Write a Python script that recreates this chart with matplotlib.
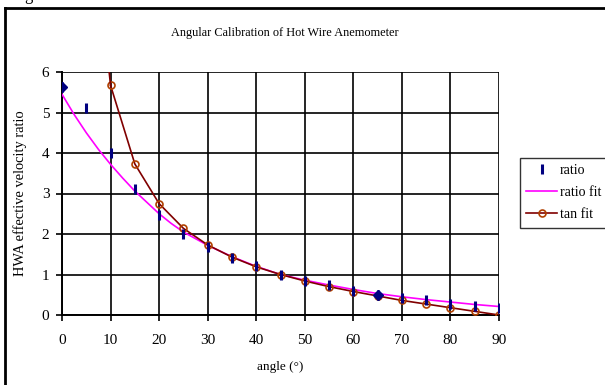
import matplotlib
matplotlib.use("Agg")
import matplotlib.pyplot as plt
from matplotlib.lines import Line2D

plt.rcParams['font.family'] = ['Liberation Serif', 'DejaVu Serif']

# data
angle = [0, 5, 10, 15, 20, 25, 30, 35, 40, 45, 50, 55, 60, 65, 70, 75, 80, 85, 90]
ratio = [5.64, 5.10, 4.00, 3.10, 2.47, 2.00, 1.68, 1.40, 1.20, 1.00,
         0.85, 0.74, 0.60, 0.50, 0.42, 0.36, 0.27, 0.21, 0.17]
fit_angle = [0, 2.5, 5, 7.5, 10, 12.5, 15, 17.5, 20, 22.5, 25, 30, 35, 40, 45,
             50, 55, 60, 65, 70, 75, 80, 85, 90]
ratio_fit = [5.45, 4.95, 4.50, 4.09, 3.72, 3.38, 3.06, 2.78, 2.50, 2.26, 2.05,
             1.72, 1.44, 1.20, 1.00, 0.86, 0.74, 0.63, 0.53, 0.45, 0.38, 0.32,
             0.26, 0.21]
tan_angle = [5, 10, 15, 20, 25, 30, 35, 40, 45, 50, 55, 60, 65, 70, 75, 80, 85, 90]
tan_fit = [11.43, 5.67, 3.73, 2.75, 2.14, 1.73, 1.43, 1.19, 1.00, 0.84,
           0.70, 0.58, 0.47, 0.36, 0.27, 0.18, 0.09, 0.00]
highlight_idx = [0, 13]  # points drawn as solid diamonds

W, H = 605, 385
fig = plt.figure(figsize=(W / 100, H / 100), dpi=100)
ax = fig.add_axes([62 / W, 1 - 315 / H, (499 - 62) / W, (315 - 72) / H])

ax.plot(fit_angle, ratio_fit, color='#FF00FF', lw=1.2, label='ratio fit', zorder=3)
ax.plot(tan_angle[1:], tan_fit[1:], color='#800000', lw=1.2, marker='o', ms=5,
        mfc='none', mec='#B04000', mew=1.2, label='tan fit', zorder=4)
ax.plot(tan_angle[:2], tan_fit[:2], color='#800000', lw=1.2, zorder=4)
ax.plot(angle, ratio, ls='none', marker='|', ms=7, mew=2.2, color='#000080',
        label='ratio', zorder=5)
ax.plot([angle[i] for i in highlight_idx], [ratio[i] for i in highlight_idx],
        ls='none', marker='D', ms=5, color='#000080', zorder=6)

ax.set_xlim(0, 90)
ax.set_ylim(0, 6)
ax.set_xticks(range(0, 91, 10))
ax.set_yticks(range(0, 7))
ax.grid(True, color='black', lw=1.2)
ax.set_axisbelow(True)
for s in ['top', 'right']:
    ax.spines[s].set_visible(False)
for s in ['left', 'bottom']:
    ax.spines[s].set_linewidth(1.4)
ax.tick_params(direction='out', length=4, width=1.2, labelsize=11)
ax.tick_params(axis='x', pad=10)
ax.tick_params(axis='y', pad=5)
ax.set_xlabel('angle (°)', fontsize=9.5, labelpad=10)
ax.set_ylabel('HWA effective velocity ratio', fontsize=10.4, labelpad=9)
ax.yaxis.set_label_coords(27 / W, 1 - 193 / H, transform=fig.transFigure)

fig.text(285 / W, 1 - 33 / H, 'Angular Calibration of Hot Wire Anemometer',
         ha='center', va='center', fontsize=8.8)

handles, labels = ax.get_legend_handles_labels()
order = [labels.index(l) for l in ['ratio', 'ratio fit', 'tan fit']]
leg = fig.legend([handles[i] for i in order], [labels[i] for i in order],
                 loc='upper left', bbox_to_anchor=(520 / W, 1 - 158 / H),
                 fontsize=10, frameon=True, fancybox=False, handlelength=2.2,
                 borderpad=0.45, labelspacing=0.65, handletextpad=0.2,
                 borderaxespad=0)
leg.get_frame().set_edgecolor('black')
leg.get_frame().set_linewidth(1.0)

# outer chart frame (cut at right and bottom)
fig.add_artist(Line2D([5 / W, 5 / W], [1 - 8 / H, 0], color='black', lw=2,
                      transform=fig.transFigure))
fig.add_artist(Line2D([5 / W, 1], [1 - 8 / H, 1 - 8 / H], color='black', lw=2,
                      transform=fig.transFigure))
fig.text(28 / W, 1.0, 'g', ha='center', va='baseline', fontsize=12)

fig.savefig('out.png', dpi=100)
